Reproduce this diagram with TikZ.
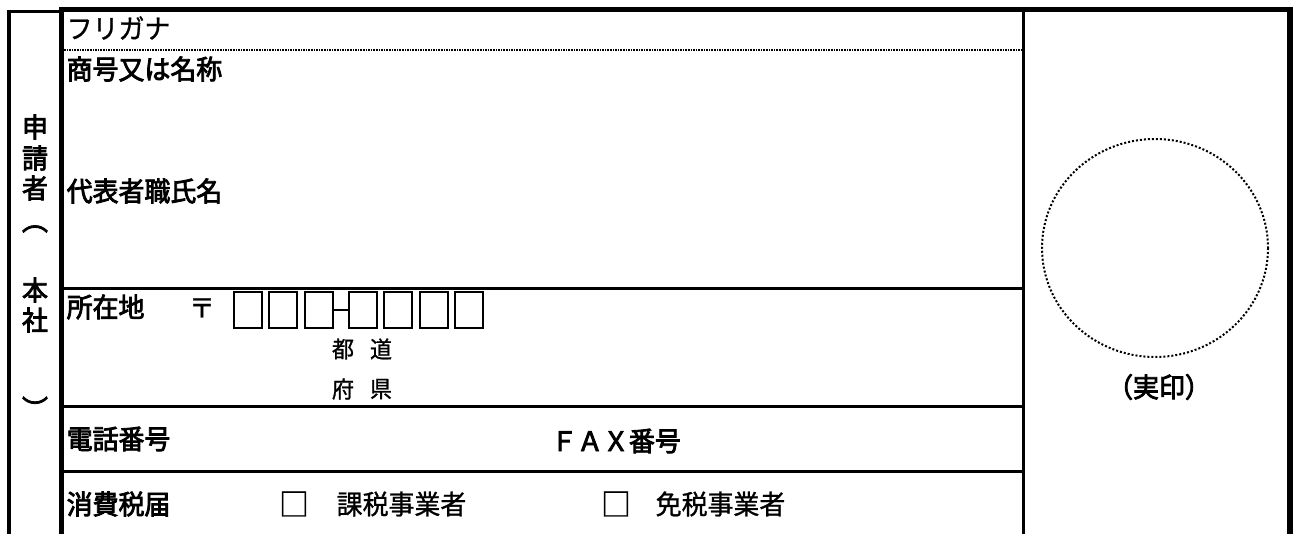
\documentclass[tikz,border=0pt]{standalone}
\usepackage{fontspec}
\newfontfamily\jp[FakeStretch=0.96,FakeBold=1]{Noto Sans CJK JP}
\newfontfamily\jpb[FakeStretch=0.96,FakeBold=3]{Noto Sans CJK JP}
\begin{document}
\begin{tikzpicture}[x=1pt,y=-1pt,
  lbl/.style={anchor=west,inner sep=0pt,font=\jpb\fontsize{27}{27}\selectfont},
  txt/.style={inner sep=0pt,font=\jp\fontsize{27}{27}\selectfont},
  smalltxt/.style={inner sep=0pt,font=\jp\fontsize{23}{23}\selectfont},
  vch/.style={inner sep=0pt,font=\jpb\fontsize{27}{27}\selectfont},
  frameA/.style={line width=3.7pt},
  frameB/.style={line width=5.2pt},
  rule/.style={line width=3pt},
  finedots/.style={line width=2.5pt,dash pattern=on 1.6pt off 1pt},
  sealdots/.style={line width=2pt,dash pattern=on 2pt off 2pt},
  zipbox/.style={line width=2.2pt}
]
\useasboundingbox (0,0) rectangle (1297,534);
% frames
\draw[frameA] (9,534) -- (9,11.5) -- (61.5,11.5);
\draw[frameB] (61.5,534) -- (61.5,9.5) -- (1290,9.5) -- (1290,534);
\draw[rule] (1023.5,9.5) -- (1023.5,534);
\draw[finedots] (64,50) -- (1022,50);
\draw[rule] (61.5,288.5) -- (1023.5,288.5);
\draw[rule] (61.5,406.5) -- (1023.5,406.5);
\draw[rule] (61.5,471.5) -- (1023.5,471.5);
% seal circle
\draw[sealdots] (1155,248) ellipse [x radius=113, y radius=109];
\node[vch] (seal) at (1159,387) {（実印）};
% vertical label
\node[vch] (v1) at (35,127) {申};
\node[vch] (v2) at (35,158) {請};
\node[vch] (v3) at (35,188) {者};
\node[vch] (v4) at (35,229) {︵};
\node[vch] (v5) at (35,290) {本};
\node[vch] (v6) at (35,320) {社};
\node[vch] (v7) at (35,408) {︶};
% labels
\node[txt,anchor=west] (furi) at (66.5,28) {フリガナ};
\node[lbl] (shogo) at (66.5,69) {商号又は名称};
\node[lbl] (daihyo) at (66.5,191) {代表者職氏名};
\node[lbl] (shozai) at (66.5,307) {所在地};
\node[txt] (yubin) at (202,308) {〒};
\foreach \bx [count=\i] in {234,269,305,349,384,420,455}
  \draw[zipbox] (\bx,292.3) rectangle ++(28,36);
\coordinate (dA) at (333,310);
\coordinate (dB) at (349,310);
\draw[zipbox] (dA) -- (dB);
\node[smalltxt] (to) at (343,349) {都};
\node[smalltxt] (do) at (381,349) {道};
\node[smalltxt] (fu) at (343,389) {府};
\node[smalltxt] (ken) at (381,389) {県};
\node[lbl] (tel) at (66.5,439) {電話番号};
\node[lbl] (fax) at (551,441) {ＦＡＸ番号};
\node[lbl] (tax) at (66.5,504) {消費税届};
\node[txt,font=\jp\fontsize{31}{31}\selectfont] (cb1) at (294,504) {□};
\node[txt,anchor=west] (kazei) at (336.5,504) {課税事業者};
\node[txt,font=\jp\fontsize{31}{31}\selectfont] (cb2) at (616,504) {□};
\node[txt,anchor=west] (menzei) at (655.5,504) {免税事業者};
\end{tikzpicture}
\end{document}
